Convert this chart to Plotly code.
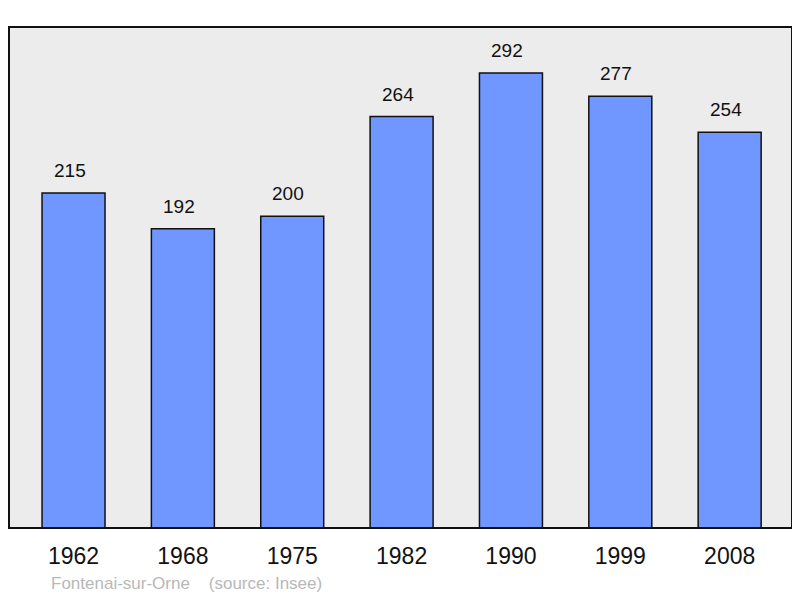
import plotly.graph_objects as go

years = ["1962", "1968", "1975", "1982", "1990", "1999", "2008"]
population = [215, 192, 200, 264, 292, 277, 254]
source_text = "Fontenai-sur-Orne    (source: Insee)"

fig = go.Figure()
fig.add_trace(go.Bar(
    x=years, y=population,
    marker=dict(color="#7096ff", line=dict(color="#111111", width=1.5)),
    width=0.576,
    hoverinfo="skip",
))

for i, v in enumerate(population):
    fig.add_annotation(x=i, y=v, text=str(v), showarrow=False,
                       yanchor="bottom", yshift=10, xshift=-4,
                       font=dict(family="Liberation Sans, Arial", size=19, color="#111111"))

fig.add_annotation(xref="paper", yref="paper", x=(49-9)/783, y=-(583-528)/501,
                   xanchor="left", yanchor="middle", text=source_text, showarrow=False,
                   font=dict(family="Liberation Sans, Arial", size=17, color="#b8b8b8"))

# plot frame
fig.add_shape(type="rect", xref="paper", yref="paper", x0=0, x1=1, y0=0, y1=1,
              line=dict(color="#111111", width=2), layer="above")

# page body has an 8px default margin, so the figure is sized/offset to compensate
fig.update_layout(
    width=792, height=590,
    margin=dict(l=1, r=8, t=19, b=70, autoexpand=False),
    paper_bgcolor="white", plot_bgcolor="#ececec",
    showlegend=False,
    xaxis=dict(type="category", range=[-0.59, 6.57], showline=False,
               ticks="", showgrid=False, automargin=False, ticklabelstandoff=12,
               tickfont=dict(family="Liberation Sans, Arial", size=23, color="#111111")),
    yaxis=dict(range=[0, 321.5], showline=False,
               showticklabels=False, ticks="", showgrid=False, zeroline=False,
               automargin=False),
)
fig.write_html("out.html")
